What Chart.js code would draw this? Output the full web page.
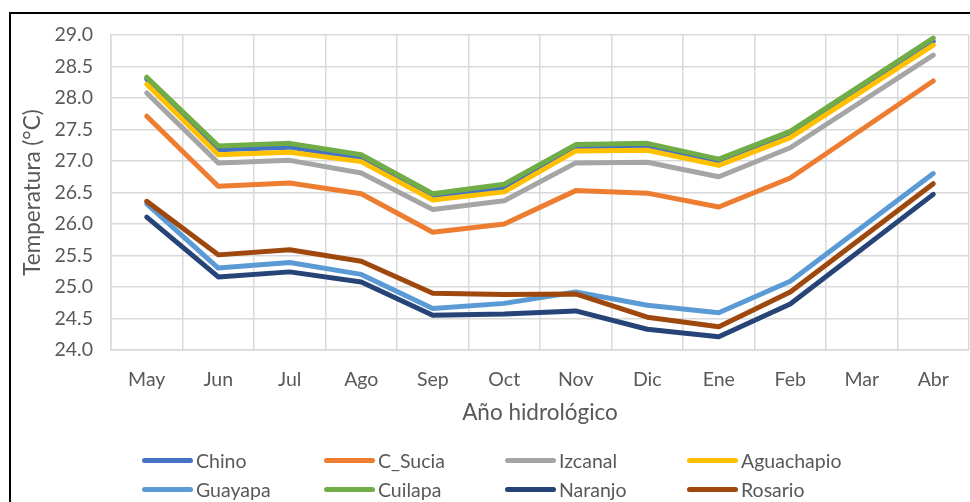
<!DOCTYPE html>
<html>
<head>
<meta charset="utf-8">
<script src="https://cdn.jsdelivr.net/npm/chart.js@4.4.1/dist/chart.umd.min.js"></script>
<style>
  html, body { margin: 0; padding: 0; background: #ffffff; }
  #wrap { position: relative; width: 970px; height: 502px; overflow: hidden; background: #fff; }
  #c { position: absolute; left: 0; top: 0; }
  #frame { position: absolute; left: 9px; top: 12px; width: 1000px; height: 600px; border: 2px solid #000; box-sizing: border-box; pointer-events: none; }
  .leg { position: absolute; height: 22px; font-family: Lato, "Open Sans", sans-serif; font-size: 19.5px; color: #595959; white-space: nowrap; }
  .leg .ln { position: absolute; left: 0; top: 8px; width: 51px; height: 5px; border-radius: 3px; }
  .leg .tx { position: absolute; left: 54px; top: 0; line-height: 22px; }
</style>
</head>
<body>
<div id="wrap">
  <canvas id="c" width="970" height="502"></canvas>
  <div id="frame"></div>
  <div id="legend"></div>
</div>
<script>
const months = ['May','Jun','Jul','Ago','Sep','Oct','Nov','Dic','Ene','Feb','Mar','Abr'];
const yTicks = [24.0, 24.5, 25.0, 25.5, 26.0, 26.5, 27.0, 27.5, 28.0, 28.5, 29.0];

const chino      = [28.30, 27.18, 27.22, 27.04, 26.43, 26.58, 27.22, 27.24, 26.98, 27.42, null, 28.90];
const cSucia     = [27.71, 26.60, 26.65, 26.48, 25.87, 26.00, 26.53, 26.49, 26.27, 26.73, null, 28.27];
const izcanal    = [28.08, 26.97, 27.01, 26.81, 26.23, 26.37, 26.97, 26.98, 26.75, 27.21, null, 28.68];
const aguachapio = [28.22, 27.10, 27.14, 26.99, 26.38, 26.51, 27.16, 27.17, 26.93, 27.37, null, 28.84];
const guayapa    = [26.32, 25.30, 25.39, 25.20, 24.66, 24.74, 24.92, 24.71, 24.59, 25.09, null, 26.80];
const cuilapa    = [28.33, 27.24, 27.28, 27.10, 26.48, 26.63, 27.26, 27.28, 27.03, 27.47, null, 28.95];
const naranjo    = [26.11, 25.16, 25.24, 25.08, 24.55, 24.57, 24.62, 24.33, 24.21, 24.73, null, 26.47];
const rosario    = [26.36, 25.51, 25.59, 25.41, 24.90, 24.88, 24.89, 24.52, 24.37, 24.92, null, 26.64];

const seriesNames  = ['Chino','C_Sucia','Izcanal','Aguachapio','Guayapa','Cuilapa','Naranjo','Rosario'];
const seriesData   = [chino, cSucia, izcanal, aguachapio, guayapa, cuilapa, naranjo, rosario];
const seriesColors = ['#4472C4','#ED7D31','#A5A5A5','#FFC000','#5B9BD5','#70AD47','#264478','#9E480E'];

const FONT = 'Lato, "Open Sans", sans-serif';
const TXT = '#595959';
const GRID = '#d9d9d9';

const datasets = seriesNames.map((n, i) => ({
  label: n,
  data: seriesData[i],
  borderColor: seriesColors[i],
  backgroundColor: seriesColors[i],
  borderWidth: 5,
  pointRadius: 0,
  pointHoverRadius: 0,
  tension: 0,
  spanGaps: true,
  borderCapStyle: 'round',
  borderJoinStyle: 'round',
  order: seriesNames.length - i
}));

new Chart(document.getElementById('c'), {
  type: 'line',
  data: { labels: months, datasets },
  options: {
    responsive: false,
    animation: false,
    devicePixelRatio: 1,
    layout: { padding: { left: 0, right: 1, top: 35, bottom: 72 } },
    plugins: { legend: { display: false }, tooltip: { enabled: false } },
    scales: {
      x: {
        offset: true,
        grid: { color: GRID, lineWidth: 1.5, drawTicks: false, offset: true },
        border: { color: GRID, width: 1.5 },
        ticks: { color: TXT, font: { family: FONT, size: 19.5 }, padding: 18, maxRotation: 0, autoSkip: false },
        title: { display: true, text: 'Año hidrológico', color: TXT, font: { family: FONT, size: 22.5 }, padding: { top: 0, bottom: 4 } },
        afterFit: s => { s.height = 80; }
      },
      y: {
        min: 24, max: 29,
        afterBuildTicks: s => { s.ticks = yTicks.map(v => ({ value: v })); },
        grid: { color: GRID, lineWidth: 1.5, drawTicks: false },
        border: { color: GRID, width: 1.5 },
        ticks: { color: TXT, font: { family: FONT, size: 19.5 }, padding: 18, callback: v => Number(v).toFixed(1) },
        title: { display: true, text: 'Temperatura (°C)', color: TXT, font: { family: FONT, size: 22.5 }, padding: { top: 19, bottom: 0 } },
        afterFit: s => { s.width = 111; }
      }
    }
  }
});

// HTML legend in a 4-column grid
const legendEl = document.getElementById('legend');
const colX = [142, 324, 505, 687];
const rowY = [450, 479];
seriesNames.forEach((n, i) => {
  const d = document.createElement('div');
  d.className = 'leg';
  d.style.left = colX[i % 4] + 'px';
  d.style.top = rowY[Math.floor(i / 4)] + 'px';
  d.innerHTML = '<div class="ln" style="background:' + seriesColors[i] + '"></div><div class="tx">' + n + '</div>';
  legendEl.appendChild(d);
});
</script>
</body>
</html>
